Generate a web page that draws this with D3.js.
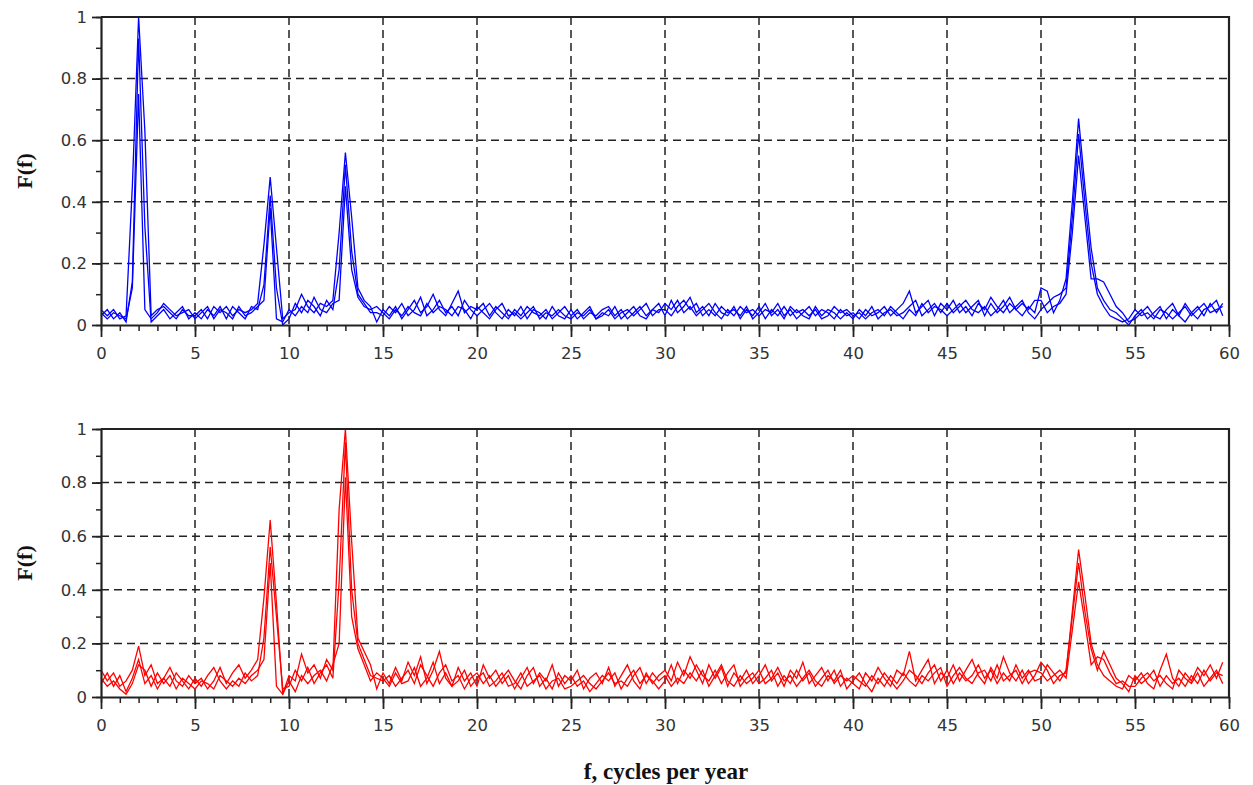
<!DOCTYPE html>
<html>
<head>
<meta charset="utf-8">
<script src="https://cdn.jsdelivr.net/npm/d3@7"></script>
<style>
  body { margin: 0; background: #fff; }
  .tick text { font-family: "DejaVu Sans", Verdana, sans-serif; font-size: 16.5px; fill: #333; }
  .lbl { font-family: "Liberation Serif", "Times New Roman", serif; font-weight: bold; fill: #111; }
</style>
</head>
<body>
<div id="holder"></div>
<script>
const w = 1253;
const h = 785;

// frequency step between samples (cycles per year)
const step = 1 / 3;

const xTicks = [0, 5, 10, 15, 20, 25, 30, 35, 40, 45, 50, 55, 60];
const yTicks = [0, 0.2, 0.4, 0.6, 0.8, 1];

// top panel (blue), three spectra
const blueA = [
  0.05,0.03,0.05,0.02,0.03,0.45,1.00,0.63,0.03,0.05,0.06,0.04,0.02,0.05,0.03,
  0.03,0.05,0.02,0.06,0.04,0.06,0.03,0.05,0.04,0.05,0.07,0.26,0.48,0.25,0.02,
  0.04,0.05,0.10,0.06,0.04,0.07,0.06,0.08,0.30,0.56,0.35,0.12,0.08,0.06,0.01,
  0.05,0.03,0.06,0.02,0.05,0.08,0.04,0.06,0.10,0.05,0.03,0.07,0.11,0.04,0.06,
  0.05,0.07,0.03,0.06,0.04,0.02,0.05,0.03,0.06,0.04,0.03,0.05,0.02,0.04,0.06,
  0.03,0.05,0.02,0.04,0.03,0.05,0.06,0.03,0.05,0.02,0.04,0.06,0.03,0.05,0.04,
  0.07,0.05,0.08,0.04,0.06,0.03,0.05,0.07,0.04,0.02,0.05,0.03,0.06,0.04,0.05,
  0.03,0.05,0.04,0.07,0.03,0.05,0.02,0.04,0.06,0.03,0.05,0.04,0.02,0.05,0.03,
  0.04,0.02,0.05,0.03,0.04,0.06,0.03,0.05,0.07,0.11,0.04,0.06,0.08,0.03,0.07,
  0.05,0.08,0.04,0.06,0.03,0.07,0.05,0.09,0.06,0.04,0.07,0.05,0.03,0.06,0.04,
  0.12,0.11,0.04,0.08,0.15,0.40,0.67,0.45,0.25,0.12,0.08,0.05,0.04,0.02,0.00,
  0.03,0.05,0.02,0.04,0.06,0.02,0.05,0.03,0.07,0.04,0.02,0.05,0.06,0.08,0.03
];
const blueB = [
  0.03,0.05,0.02,0.04,0.01,0.14,0.93,0.32,0.01,0.03,0.05,0.02,0.04,0.06,0.02,
  0.04,0.02,0.05,0.03,0.06,0.02,0.06,0.04,0.02,0.06,0.05,0.13,0.42,0.12,0.00,
  0.02,0.07,0.04,0.08,0.06,0.03,0.08,0.05,0.18,0.52,0.24,0.10,0.07,0.04,0.04,
  0.03,0.06,0.04,0.07,0.03,0.05,0.09,0.03,0.05,0.08,0.04,0.06,0.03,0.08,0.05,
  0.03,0.05,0.07,0.04,0.02,0.05,0.03,0.06,0.02,0.05,0.04,0.02,0.06,0.03,0.02,
  0.05,0.02,0.04,0.06,0.02,0.04,0.03,0.06,0.02,0.04,0.06,0.03,0.02,0.05,0.07,
  0.03,0.08,0.04,0.06,0.09,0.04,0.06,0.03,0.07,0.04,0.03,0.06,0.02,0.05,0.03,
  0.06,0.02,0.05,0.03,0.06,0.03,0.05,0.03,0.02,0.06,0.03,0.05,0.04,0.02,0.04,
  0.02,0.05,0.03,0.06,0.02,0.04,0.05,0.03,0.04,0.06,0.08,0.03,0.05,0.07,0.04,
  0.07,0.04,0.06,0.08,0.05,0.04,0.06,0.03,0.05,0.08,0.04,0.06,0.08,0.04,0.02,
  0.05,0.07,0.09,0.10,0.12,0.35,0.62,0.40,0.20,0.10,0.06,0.03,0.02,0.01,0.02,
  0.05,0.03,0.04,0.02,0.05,0.04,0.02,0.04,0.06,0.03,0.05,0.07,0.04,0.05,0.06
];
const blueC = [
  0.04,0.02,0.04,0.03,0.02,0.12,0.75,0.05,0.02,0.04,0.07,0.05,0.03,0.04,0.05,
  0.02,0.04,0.06,0.02,0.05,0.04,0.02,0.06,0.03,0.04,0.06,0.08,0.38,0.02,0.01,
  0.05,0.03,0.06,0.04,0.09,0.05,0.04,0.07,0.08,0.45,0.18,0.09,0.06,0.05,0.06,
  0.04,0.02,0.05,0.03,0.06,0.04,0.03,0.07,0.04,0.06,0.05,0.03,0.06,0.05,0.02,
  0.06,0.04,0.02,0.05,0.07,0.03,0.04,0.02,0.04,0.06,0.02,0.04,0.03,0.05,0.03,
  0.02,0.04,0.03,0.05,0.02,0.03,0.05,0.02,0.04,0.05,0.03,0.05,0.07,0.03,0.05,
  0.05,0.03,0.06,0.08,0.05,0.07,0.03,0.05,0.03,0.06,0.04,0.05,0.03,0.06,0.02,
  0.04,0.07,0.03,0.05,0.02,0.06,0.04,0.05,0.03,0.05,0.02,0.03,0.06,0.04,0.05,
  0.03,0.04,0.02,0.04,0.05,0.03,0.06,0.04,0.02,0.05,0.03,0.07,0.04,0.06,0.05,
  0.03,0.05,0.07,0.04,0.06,0.08,0.03,0.07,0.04,0.06,0.09,0.05,0.07,0.05,0.08,
  0.08,0.04,0.06,0.07,0.10,0.30,0.55,0.35,0.15,0.15,0.14,0.10,0.06,0.04,0.01,
  0.02,0.04,0.06,0.03,0.02,0.05,0.07,0.03,0.01,0.04,0.06,0.03,0.07,0.04,0.07
];

// bottom panel (red), three spectra
const redA = [
  0.10,0.06,0.09,0.04,0.06,0.10,0.19,0.08,0.12,0.05,0.07,0.11,0.06,0.04,0.08,
  0.05,0.07,0.03,0.06,0.11,0.05,0.09,0.12,0.07,0.10,0.14,0.37,0.66,0.35,0.01,
  0.08,0.06,0.16,0.09,0.12,0.07,0.14,0.10,0.70,1.00,0.58,0.22,0.17,0.12,0.03,
  0.09,0.05,0.11,0.06,0.13,0.08,0.15,0.05,0.10,0.17,0.07,0.04,0.11,0.06,0.09,
  0.04,0.12,0.07,0.10,0.05,0.08,0.03,0.07,0.11,0.05,0.09,0.06,0.12,0.04,0.08,
  0.06,0.10,0.03,0.07,0.09,0.05,0.11,0.04,0.08,0.12,0.06,0.03,0.09,0.05,0.08,
  0.10,0.06,0.13,0.08,0.15,0.10,0.05,0.12,0.07,0.11,0.04,0.09,0.06,0.10,0.05,
  0.08,0.12,0.06,0.09,0.04,0.10,0.07,0.13,0.05,0.08,0.11,0.06,0.10,0.04,0.07,
  0.05,0.03,0.09,0.06,0.11,0.07,0.04,0.10,0.08,0.17,0.06,0.10,0.14,0.05,0.09,
  0.07,0.12,0.06,0.10,0.14,0.08,0.05,0.11,0.07,0.15,0.09,0.06,0.10,0.05,0.08,
  0.13,0.10,0.05,0.08,0.09,0.32,0.55,0.38,0.20,0.12,0.08,0.06,0.04,0.03,0.08,
  0.06,0.09,0.05,0.03,0.10,0.16,0.07,0.04,0.09,0.06,0.11,0.08,0.12,0.07,0.13
];
const redB = [
  0.05,0.09,0.04,0.08,0.02,0.07,0.14,0.05,0.08,0.03,0.07,0.04,0.09,0.06,0.03,
  0.07,0.04,0.08,0.11,0.06,0.03,0.06,0.04,0.09,0.06,0.08,0.22,0.56,0.30,0.03,
  0.04,0.10,0.06,0.11,0.05,0.09,0.12,0.07,0.43,0.95,0.40,0.20,0.14,0.08,0.07,
  0.06,0.08,0.04,0.07,0.10,0.05,0.12,0.08,0.04,0.09,0.12,0.06,0.08,0.03,0.07,
  0.09,0.05,0.08,0.04,0.07,0.10,0.06,0.03,0.08,0.11,0.04,0.07,0.03,0.09,0.05,
  0.08,0.04,0.06,0.02,0.05,0.08,0.06,0.09,0.03,0.07,0.10,0.05,0.08,0.06,0.03,
  0.06,0.12,0.05,0.10,0.07,0.12,0.08,0.06,0.10,0.05,0.09,0.12,0.04,0.07,0.09,
  0.05,0.07,0.10,0.04,0.08,0.05,0.10,0.06,0.09,0.04,0.07,0.10,0.05,0.08,0.06,
  0.08,0.06,0.04,0.08,0.05,0.09,0.06,0.03,0.06,0.10,0.08,0.05,0.09,0.12,0.06,
  0.10,0.05,0.09,0.06,0.08,0.12,0.07,0.10,0.05,0.09,0.06,0.12,0.07,0.10,0.06,
  0.07,0.12,0.09,0.06,0.10,0.30,0.50,0.32,0.18,0.10,0.17,0.12,0.07,0.05,0.02,
  0.08,0.05,0.07,0.10,0.04,0.08,0.05,0.07,0.04,0.08,0.05,0.10,0.06,0.09,0.08
];
const redC = [
  0.07,0.04,0.06,0.03,0.01,0.05,0.12,0.10,0.04,0.09,0.05,0.08,0.03,0.07,0.05,
  0.03,0.06,0.05,0.03,0.08,0.06,0.04,0.07,0.05,0.08,0.10,0.14,0.50,0.04,0.01,
  0.06,0.02,0.08,0.05,0.08,0.10,0.06,0.12,0.20,0.82,0.30,0.18,0.12,0.06,0.09,
  0.07,0.04,0.09,0.05,0.06,0.11,0.04,0.07,0.13,0.05,0.09,0.04,0.06,0.10,0.04,
  0.07,0.09,0.04,0.06,0.09,0.04,0.05,0.09,0.04,0.06,0.08,0.03,0.06,0.07,0.03,
  0.04,0.06,0.08,0.05,0.03,0.06,0.09,0.05,0.06,0.04,0.08,0.11,0.05,0.09,0.06,
  0.08,0.04,0.07,0.05,0.09,0.06,0.10,0.04,0.08,0.12,0.06,0.04,0.08,0.05,0.07,
  0.10,0.05,0.07,0.11,0.06,0.08,0.04,0.07,0.10,0.06,0.04,0.08,0.06,0.10,0.03,
  0.06,0.09,0.05,0.02,0.07,0.04,0.08,0.05,0.09,0.06,0.04,0.08,0.06,0.09,0.11,
  0.04,0.08,0.11,0.07,0.05,0.09,0.10,0.06,0.12,0.06,0.08,0.10,0.05,0.09,0.10,
  0.09,0.06,0.08,0.10,0.07,0.25,0.43,0.28,0.12,0.15,0.14,0.09,0.05,0.06,0.04,
  0.04,0.07,0.09,0.06,0.08,0.05,0.03,0.10,0.07,0.05,0.09,0.04,0.07,0.10,0.05
];

// CREATE SVG
const svg = d3.select("#holder")
    .append("svg")
    .attr("width", w)
    .attr("height", h);

const x = d3.scaleLinear().domain([0, 60]).range([101, 1229]);

function drawPanel(top, bottom, series, color) {
    const y = d3.scaleLinear().domain([0, 1]).range([bottom, top]);
    const g = svg.append("g");

    // dashed grid
    g.append("g").selectAll("line")
        .data(xTicks.slice(1, -1))
        .enter().append("line")
        .attr("x1", d => x(d)).attr("x2", d => x(d))
        .attr("y1", top).attr("y2", bottom)
        .attr("stroke", "#222").attr("stroke-width", 1.5)
        .attr("stroke-dasharray", "8,5");
    g.append("g").selectAll("line")
        .data(yTicks.slice(1, -1))
        .enter().append("line")
        .attr("x1", x(0)).attr("x2", x(60))
        .attr("y1", d => y(d)).attr("y2", d => y(d))
        .attr("stroke", "#222").attr("stroke-width", 1.5)
        .attr("stroke-dasharray", "8,5");

    // spectra
    const line = d3.line()
        .x((d, i) => x(i * step))
        .y(d => y(d));
    g.append("g").selectAll("path")
        .data(series)
        .enter().append("path")
        .attr("d", line)
        .attr("fill", "none")
        .attr("stroke", color)
        .attr("stroke-width", 1.3);

    // minor ticks
    g.append("g")
        .attr("transform", `translate(0,${bottom})`)
        .call(d3.axisBottom(x).tickValues(d3.range(0, 61, 1)).tickSize(6).tickFormat(""))
        .call(a => a.select(".domain").remove())
        .selectAll("line").attr("stroke", "#222").attr("stroke-width", 1.5);
    g.append("g")
        .attr("transform", `translate(${x(0)},0)`)
        .call(d3.axisLeft(y).tickValues(d3.range(0, 1.01, 0.1)).tickSize(5).tickFormat(""))
        .call(a => a.select(".domain").remove())
        .selectAll("line").attr("stroke", "#222").attr("stroke-width", 1.5);

    // major axes
    const xa = g.append("g")
        .attr("transform", `translate(0,${bottom})`)
        .call(d3.axisBottom(x).tickValues(xTicks).tickSize(12).tickSizeOuter(0).tickPadding(10));
    const ya = g.append("g")
        .attr("transform", `translate(${x(0)},0)`)
        .call(d3.axisLeft(y).tickValues(yTicks).tickSize(9).tickSizeOuter(0).tickPadding(5)
            .tickFormat(d => +d.toFixed(1)));
    [xa, ya].forEach(a => {
        a.select(".domain").attr("stroke", "#222").attr("stroke-width", 2.2);
        a.selectAll(".tick line").attr("stroke", "#222").attr("stroke-width", 1.8);
    });

    // frame top and right
    g.append("path")
        .attr("d", `M${x(0)},${top}H${x(60)}V${bottom}`)
        .attr("fill", "none").attr("stroke", "#222").attr("stroke-width", 2.2);

    // y label
    g.append("text")
        .attr("class", "lbl")
        .attr("transform", `translate(32,${(top + bottom) / 2}) rotate(-90)`)
        .attr("text-anchor", "middle")
        .style("font-size", "22px")
        .text("F(f)");
}

drawPanel(17, 325, [blueA, blueB, blueC], "#0000ff");
drawPanel(429, 697, [redA, redB, redC], "#ff0000");

svg.append("text")
    .attr("class", "lbl")
    .attr("x", 666).attr("y", 779)
    .attr("text-anchor", "middle")
    .style("font-size", "23px")
    .text("f, cycles per year");
</script>
</body>
</html>
